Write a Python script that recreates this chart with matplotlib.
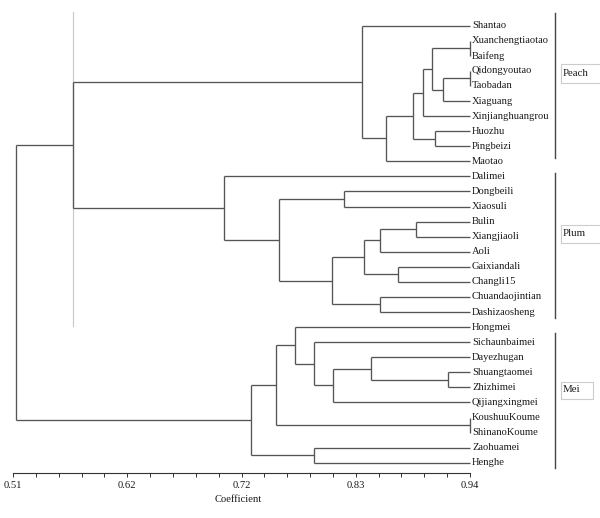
import numpy as np
import matplotlib
matplotlib.use("Agg")
import matplotlib.pyplot as plt
from matplotlib.patches import Rectangle

# ---------------- data ----------------
leaves = ["Shantao", "Xuanchengtiaotao", "Baifeng", "Qidongyoutao", "Taobadan",
          "Xiaguang", "Xinjianghuangrou", "Huozhu", "Pingbeizi", "Maotao",
          "Dalimei", "Dongbeili", "Xiaosuli", "Bulin", "Xiangjiaoli", "Aoli",
          "Gaixiandali", "Changli15", "Chuandaojintian", "Dashizaosheng",
          "Hongmei", "Sichaunbaimei", "Dayezhugan", "Shuangtaomei", "Zhizhimei",
          "Qijiangxingmei", "KoushuuKoume", "ShinanoKoume", "Zaohuamei", "Henghe"]

# (node id, child a, child b, similarity coefficient at merge)
merges = [
    ("a1", "Xuanchengtiaotao", "Baifeng", 0.940),
    ("a2", "Qidongyoutao", "Taobadan", 0.940),
    ("a3", "a2", "Xiaguang", 0.915),
    ("a4", "a1", "a3", 0.904),
    ("a5", "a4", "Xinjianghuangrou", 0.896),
    ("a6", "Huozhu", "Pingbeizi", 0.907),
    ("a7", "a5", "a6", 0.886),
    ("a8", "a7", "Maotao", 0.861),
    ("a9", "Shantao", "a8", 0.838),
    ("b1", "Dongbeili", "Xiaosuli", 0.821),
    ("b2", "Bulin", "Xiangjiaoli", 0.889),
    ("b3", "b2", "Aoli", 0.855),
    ("b4", "Gaixiandali", "Changli15", 0.872),
    ("b5", "b3", "b4", 0.840),
    ("b6", "Chuandaojintian", "Dashizaosheng", 0.855),
    ("b7", "b5", "b6", 0.810),
    ("b8", "b1", "b7", 0.760),
    ("b9", "Dalimei", "b8", 0.709),
    ("c1", "Shuangtaomei", "Zhizhimei", 0.919),
    ("c2", "Dayezhugan", "c1", 0.847),
    ("c3", "c2", "Qijiangxingmei", 0.811),
    ("c4", "Sichaunbaimei", "c3", 0.793),
    ("c5", "Hongmei", "c4", 0.775),
    ("c6", "KoushuuKoume", "ShinanoKoume", 0.940),
    ("c7", "c5", "c6", 0.757),
    ("c8", "Zaohuamei", "Henghe", 0.793),
    ("c9", "c7", "c8", 0.734),
    ("d1", "a9", "b9", 0.566),
    ("root", "d1", "c9", 0.513),
]

groups = ["Peach", "Plum", "Mei"]

xticks = [0.51, 0.6175, 0.725, 0.8325, 0.94]
xticklabels = ["0.51", "0.62", "0.72", "0.83", "0.94"]
leaf_level = 0.94

# ---------------- layout ----------------
W, H = 600, 518
fig = plt.figure(figsize=(W / 100, H / 100), dpi=100)
plt.rcParams["font.family"] = ["Liberation Serif", "DejaVu Serif"]

ax_bottom_px = 473.3
ax = fig.add_axes([0, (H - ax_bottom_px) / H, 1, ax_bottom_px / H])
ppu = (470 - 13) / (0.94 - 0.51)           # pixels per unit coefficient
ax.set_xlim(0.51 - 13 / ppu, 0.51 + (W - 13) / ppu)
y0_px, dy_px = 25.7, 15.07
ax.set_ylim((ax_bottom_px - y0_px) / dy_px, -y0_px / dy_px)

line_col = "#555555"
lw = 0.95

pos = {name: (leaf_level, i) for i, name in enumerate(leaves)}
for node, a, b, h in merges:
    xa, ya = pos[a]
    xb, yb = pos[b]
    ax.plot([xa, h], [ya, ya], color=line_col, lw=lw, solid_capstyle="butt")
    ax.plot([xb, h], [yb, yb], color=line_col, lw=lw, solid_capstyle="butt")
    ax.plot([h, h], [ya, yb], color=line_col, lw=lw, solid_capstyle="butt")
    pos[node] = (h, (ya + yb) / 2)

# faint artefact line in the original figure
ax.plot([0.566, 0.566], [-0.9, 19.9], color="#c8c8c8", lw=0.8, zorder=0)

for i, name in enumerate(leaves):
    ax.text(leaf_level + 2 / ppu, i, name, va="center", ha="left",
            fontsize=7.6, color="#1a1a1a")

# x axis
for s in ["top", "right", "left"]:
    ax.spines[s].set_visible(False)
ax.spines["bottom"].set_bounds(0.51, 0.94)
ax.spines["bottom"].set_color("#333333")
ax.spines["bottom"].set_linewidth(0.8)
ax.set_yticks([])
ax.set_xticks(xticks)
ax.set_xticklabels(xticklabels, fontsize=7.6, color="#1a1a1a")
ax.set_xticks(np.linspace(0.51, 0.94, 21), minor=True)
ax.tick_params(axis="x", which="both", direction="out", length=3, width=0.7,
               color="#333333", pad=2.5)
ax.tick_params(axis="x", which="minor", length=2.6)
fig.text(238 / W, 1 - 500 / H, "Coefficient", ha="center", va="center",
         fontsize=7.6, color="#1a1a1a")

# group brackets and labelled boxes
bars_px = [(13.3, 158.3), (173, 318), (333, 468)]
label_y_px = [74, 234, 390]
box_px = [(561, 64.3, 60, 19), (561, 225, 60, 18.3), (561, 381.7, 31.7, 17.6)]
for g, (t, bt), ly, (bx, by, bw, bh) in zip(groups, bars_px, label_y_px, box_px):
    fig.add_artist(plt.Line2D([555 / W, 555 / W], [1 - t / H, 1 - bt / H],
                              transform=fig.transFigure, color="#444444", lw=1.0))
    fig.add_artist(Rectangle((bx / W, 1 - (by + bh) / H), bw / W, bh / H,
                             transform=fig.transFigure, fill=False,
                             edgecolor="#cccccc", lw=0.8))
    fig.text(563 / W, 1 - ly / H, g, ha="left", va="center", fontsize=7.8,
             color="#1a1a1a")

fig.savefig("out.png", dpi=100)
